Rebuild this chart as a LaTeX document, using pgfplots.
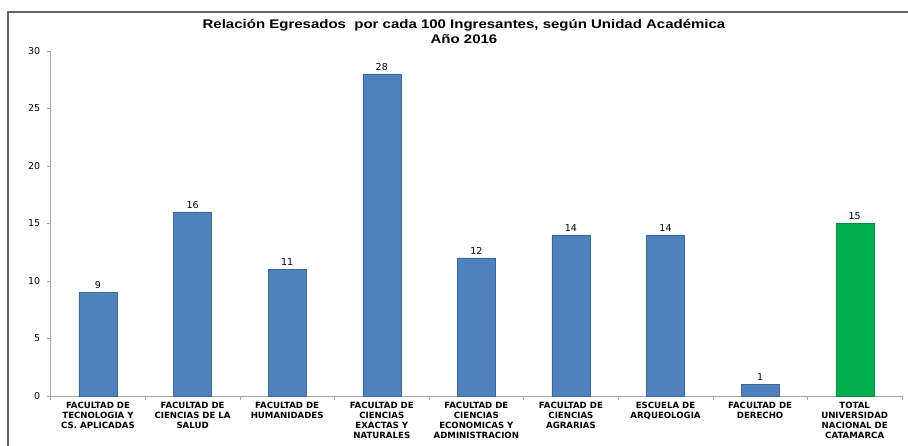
\documentclass[border=0pt]{standalone}
\usepackage{pgfplots}
\pgfplotsset{compat=1.18}
\usepackage{fontspec}
\setmainfont{Liberation Sans}
\newfontfamily\dv{DejaVu Sans}
\definecolor{barblue}{HTML}{4F81BD}
\definecolor{bargreen}{HTML}{00B050}
\definecolor{axgray}{HTML}{A6A6A6}
\begin{document}
\begin{tikzpicture}[x=1pt,y=1pt]
\useasboundingbox (0,0) rectangle (908,446);
\draw[gray!80!black, line width=1.2pt] (8,0) -- (8,434) -- (908,434);
\node[font=\bfseries\fontsize{12.5}{14}\selectfont] at (464,421) {\scalebox{1.2}[1]{Relación Egresados\ \ por cada 100 Ingresantes, según Unidad Académica}};
\node[font=\bfseries\fontsize{12.5}{14}\selectfont] at (464,407) {\scalebox{1.2}[1]{Año 2016}};
\begin{axis}[
  at={(50.7pt,50pt)}, anchor=south west,
  scale only axis, width=851.3pt, height=345pt,
  xmin=-0.5, xmax=8.5, ymin=0, ymax=30,
  ytick={0,5,...,30},
  xtick={-0.5,0.5,...,8.5},
  xticklabels={},
  extra x ticks={0,...,8},
  extra x tick labels={{FACULTAD DE\\TECNOLOGIA Y\\CS. APLICADAS},{FACULTAD DE\\CIENCIAS DE LA\\SALUD},{FACULTAD DE\\HUMANIDADES},{FACULTAD DE\\CIENCIAS\\EXACTAS Y\\NATURALES},{FACULTAD DE\\CIENCIAS\\ECONOMICAS Y\\ADMINISTRACION},{FACULTAD DE\\CIENCIAS\\AGRARIAS},{ESCUELA DE\\ARQUEOLOGIA},{FACULTAD DE\\DERECHO},{TOTAL\\UNIVERSIDAD\\NACIONAL DE\\CATAMARCA}},
  extra x tick style={major tick length=0pt, tick style={draw=none}},
  xticklabel style={font=\dv\bfseries\fontsize{8.6}{9.8}\selectfont, align=center, yshift=-3pt},
  yticklabel style={font=\dv\fontsize{9.5}{10}\selectfont, xshift=-3pt},
  /pgf/number format/assume math mode=true,
  axis x line*=bottom, axis y line*=left,
  axis line style={axgray, line width=0.8pt},
  y axis line style={-}, x axis line style={-},
  tick style={draw=axgray, line width=0.6pt}, tick align=outside, major tick length=4pt,
  ybar, bar width=38pt,
  nodes near coords, nodes near coords style={font=\dv\fontsize{9.5}{10}\selectfont, black},
  clip=false,
]
\addplot[fill=barblue, draw=barblue!80!black, bar shift=0pt] coordinates {(0,9) (1,16) (2,11) (3,28) (4,12) (5,14) (6,14) (7,1)};
\addplot[fill=bargreen, draw=bargreen!80!black, bar shift=0pt] coordinates {(8,15)};
\end{axis}
\end{tikzpicture}
\end{document}
